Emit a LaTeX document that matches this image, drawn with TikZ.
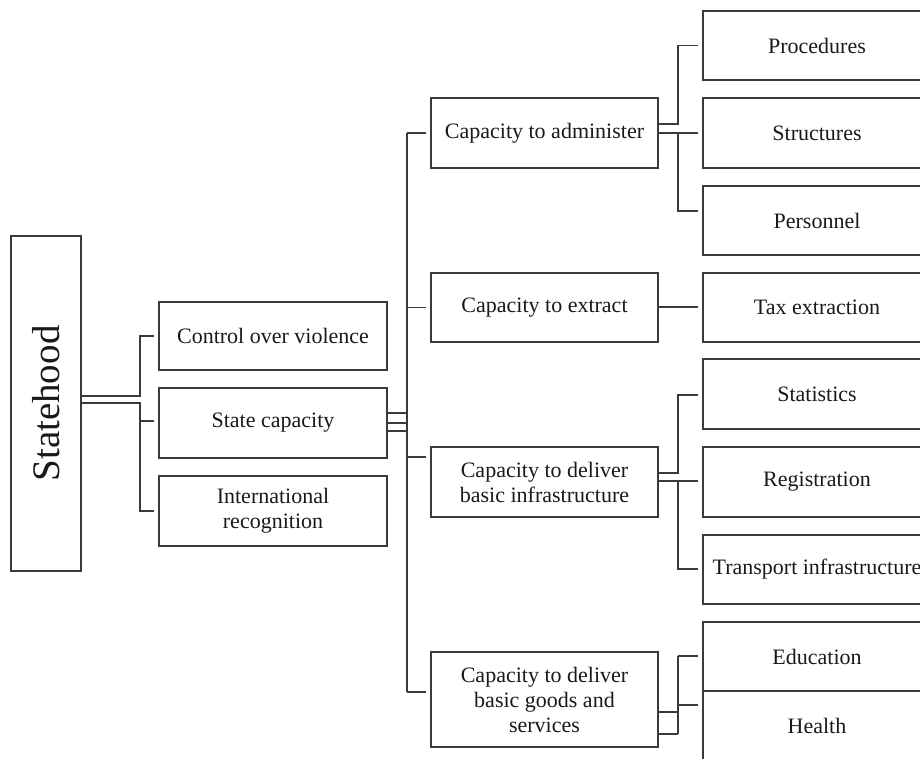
\documentclass[tikz,border=0pt]{standalone}
\usepackage{fontspec}
\setmainfont{Liberation Serif}
\definecolor{ln}{HTML}{3A3A3A}
\begin{document}
\begin{tikzpicture}[x=1pt,y=-1pt,
  bx/.style={draw=ln, line width=1.3pt, inner sep=0pt, align=center, text=black!90,
    font=\fontsize{22}{25}\selectfont, minimum width=228pt, minimum height=70pt},
  cn/.style={draw=ln, line width=1.3pt}]
\useasboundingbox (0,0) rectangle (920,758);
\clip (0,0) rectangle (920,758);
% root
\node[bx, minimum width=70pt, minimum height=335pt] (stat) at (46,403.5) {};
\node[rotate=90, font=\fontsize{39}{40}\selectfont, text=black!90] (statlab) at (stat.center) {Statehood};
% level 1
\node[bx, minimum height=68pt] (ctrl) at (273,336) {Control over violence};
\node[bx] (scap) at (273,423) {State capacity};
\node[bx] (intl) at (273,511) {International\\recognition};
% level 2
\node[bx, minimum width=227pt] (adm) at (544.5,133) {Capacity to administer};
\node[bx, minimum width=227pt, minimum height=69pt] (ext) at (544.5,307.5) {Capacity to extract};
\node[bx, minimum width=227pt] (inf) at (544.5,482) {Capacity to deliver\\basic infrastructure};
\node[bx, minimum width=227pt, minimum height=95pt] (goods) at (544.5,699.5) {Capacity to deliver\\basic goods and\\services};
% level 3
\node[bx, minimum height=69pt] (proc) at (817,45.5) {Procedures};
\node[bx] (struc) at (817,133) {Structures};
\node[bx, minimum height=69pt] (pers) at (817,220.5) {Personnel};
\node[bx, minimum height=69pt] (tax) at (817,307.5) {Tax extraction};
\node[bx] (stats) at (817,394) {Statistics};
\node[bx] (reg) at (817,482) {Registration};
\node[bx, minimum height=69pt] (trans) at (817,569.5) {Transport infrastructure};
\node[bx, minimum height=69pt] (edu) at (817,656.5) {Education};
\node[bx, minimum height=69pt] (health) at (817,725.5) {Health};
% junction coordinates
\coordinate (a1) at (140,396);
\coordinate (a2) at (140,403);
\coordinate (b) at (407,413);
\coordinate (c) at (678,124);
\coordinate (d) at (678,473);
\coordinate (e) at (678,712);
% connectors root -> level 1
\draw[cn] (stat.east |- a1) -- (a1) |- ([xshift=-4pt]ctrl.west);
\draw[cn] (stat.east |- a2) -- (a2) |- ([xshift=-4pt]intl.west);
\draw[cn] (a2 |- 0,421) -- ([xshift=-4pt]scap.west |- 0,421);
% state capacity -> level 2
\draw[cn] (scap.east |- 0,413) -- (b);
\draw[cn] (scap.east |- 0,423) -- (b |- 0,423);
\draw[cn] (scap.east |- 0,431) -- (b |- 0,431);
\draw[cn] (b |- adm.west) -- (b |- 0,692);
\draw[cn] (b |- adm.west) -- ([xshift=-4pt]adm.west);
\draw[cn] (b |- ext.west) -- ([xshift=-4pt]ext.west);
\draw[cn] (b |- 0,457) -- ([xshift=-4pt]inf.west |- 0,457);
\draw[cn] (b |- 0,692) -- ([xshift=-4pt]goods.west |- 0,692);
% administer -> level 3
\draw[cn] (adm.east |- c) -- (c) |- ([xshift=-4pt]proc.west);
\draw[cn] (adm.east) -- ([xshift=-4pt]struc.west);
\draw[cn] (c |- adm.east) |- ([xshift=-4pt]pers.west |- 0,211);
% extract -> tax
\draw[cn] (ext.east |- 0,307) -- ([xshift=-4pt]tax.west |- 0,307);
% infrastructure -> level 3
\draw[cn] (inf.east |- d) -- (d) |- ([xshift=-4pt]stats.west |- 0,395);
\draw[cn] (inf.east |- 0,481) -- ([xshift=-4pt]reg.west |- 0,481);
\draw[cn] (d |- 0,481) |- ([xshift=-4pt]trans.west |- 0,569);
% goods -> level 3
\draw[cn] (goods.east |- e) -- (e);
\draw[cn] (goods.east |- 0,734) -- (e |- 0,734);
\draw[cn] (e |- 0,656) -- (e |- 0,734);
\draw[cn] (e |- 0,656) -- ([xshift=-4pt]edu.west |- 0,656);
\draw[cn] (e |- 0,705) -- ([xshift=-4pt]health.west |- 0,705);
\end{tikzpicture}
\end{document}
